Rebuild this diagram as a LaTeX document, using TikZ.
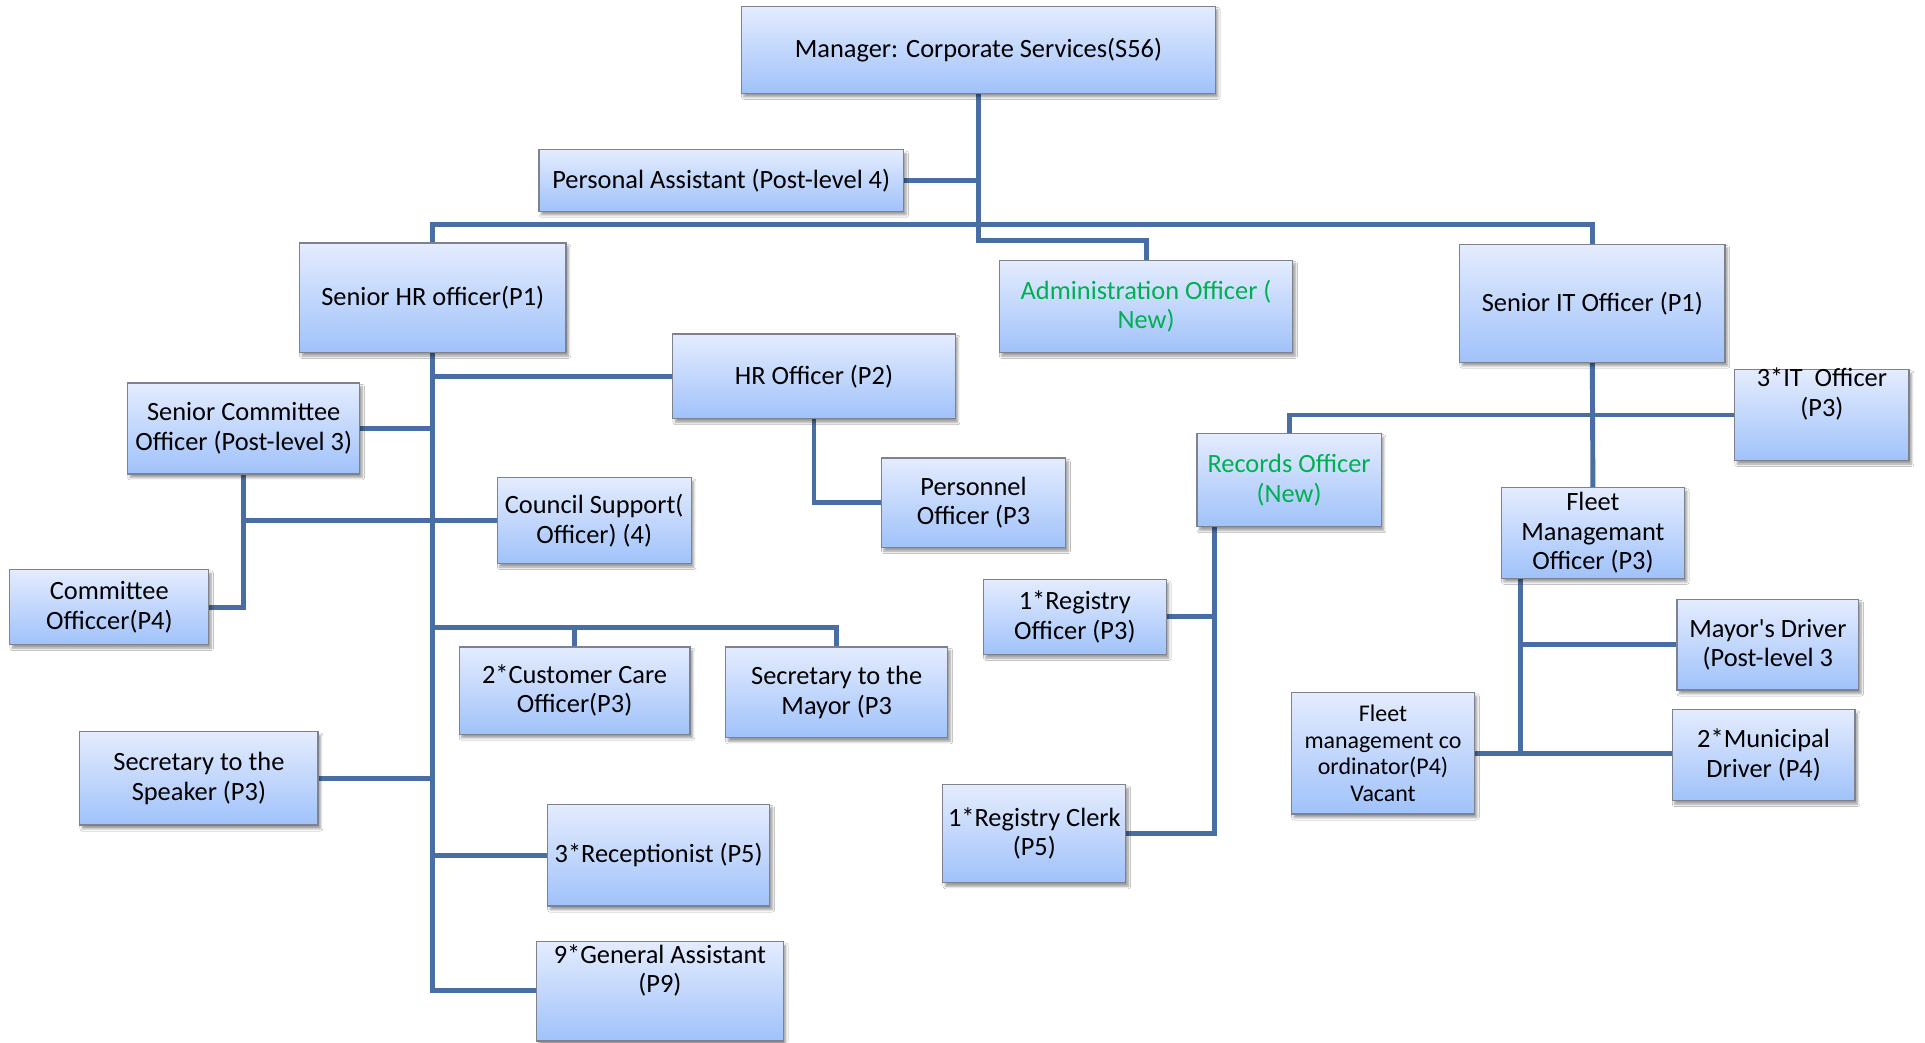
\documentclass[tikz,border=0pt]{standalone}
\usepackage{fontspec}
\setmainfont{Carlito}
\usetikzlibrary{shadows.blur,backgrounds}
\definecolor{boxtop}{RGB}{228,236,254}
\definecolor{boxbot}{RGB}{160,194,250}
\definecolor{boxline}{RGB}{125,130,140}
\definecolor{conn}{RGB}{72,110,163}
\definecolor{newgreen}{RGB}{0,176,80}
\tikzset{
  box/.style={rectangle, draw=boxline, line width=1pt, top color=boxtop, bottom color=boxbot,
    inner sep=0pt, align=center, font=\fontsize{21.5}{24}\selectfont,
    blur shadow={shadow xshift=2pt, shadow yshift=-3pt, shadow blur steps=6, shadow opacity=40}},
  small/.style={font=\fontsize{19.5}{21.5}\selectfont},
  newpost/.style={text=newgreen},
  txt/.style={inner sep=0pt, align=center, font=\fontsize{21.5}{24}\selectfont},
  conn/.style={draw=conn, line width=4pt, line cap=rect}
}
\newcommand\bx[7][]{\node[box,#1,minimum width=#5pt-#3pt, minimum height=#6pt-#4pt] (#2) at ({(#3+#5)/2},{(#4+#6)/2}) {#7};}
\begin{document}
\begin{tikzpicture}[x=1pt,y=-1pt]
\useasboundingbox (0,0) rectangle (1568,849);
% boxes
\bx{mgr}{604}{5}{990}{76}{Manager: Corporate Services(S56)}
\bx{pa}{439}{122}{736}{172}{Personal Assistant (Post-level 4)}
\bx{shr}{244}{198}{461}{287}{Senior HR officer(P1)}
\bx[newpost]{adm}{814}{212}{1053}{287}{Administration Officer (\\New)}
\bx{sit}{1189}{199}{1405}{295}{Senior IT Officer (P1)}
\bx{hro}{548}{272}{778}{341}{HR Officer (P2)}
\bx{sco}{104}{312}{293}{386}{Senior Committee\\Officer (Post-level 3)}
\bx{cs}{405}{389}{563}{459}{Council Support(\\Officer) (4)}
\bx{pers}{718}{373}{868}{446}{Personnel\\Officer (P3}
\bx{co}{8}{464}{170}{525}{Committee\\Officcer(P4)}
\bx{cc}{374}{527}{562}{598}{2*Customer Care\\Officer(P3)}
\bx{smy}{591}{527}{772}{601}{Secretary to the\\Mayor (P3}
\bx{ssp}{65}{596}{259}{672}{Secretary to the\\Speaker (P3)}
\bx{rcp}{446}{655}{627}{738}{3*Receptionist (P5)}
\bx[label={[txt,yshift=17pt]center:9*General Assistant\\(P9)}]{ga}{437}{767}{638}{848}{}
\bx[newpost]{ro}{975}{353}{1125}{429}{Records Officer\\(New)}
\bx[label={[txt,yshift=17pt]center:3*IT\ \ Officer\\(P3)}]{ito}{1413}{301}{1555}{375}{}
\bx{fl}{1223}{397}{1372}{471}{Fleet\\Managemant\\Officer (P3)}
\bx{rgo}{801}{472}{950}{533}{1*Registry\\Officer (P3)}
\bx{md}{1366}{488}{1514}{562}{Mayor\textquotesingle s Driver\\(Post-level 3}
\bx[small]{fc}{1052}{564}{1201}{663}{Fleet\\management co\\ordinator(P4)\\Vacant}
\bx{mun}{1362}{578}{1511}{652}{2*Municipal\\Driver (P4)}
\bx{rcl}{768}{639}{917}{719}{1*Registry Clerk\\(P5)}
% connectors
\begin{pgfonlayer}{background}
\fill[white] (0,0) rectangle (1568,849);
\draw[conn] (mgr.south) -- (mgr.south |- 0,196) -| (adm.north);
\draw[conn] (pa.east) -- (pa.east -| mgr.south);
\draw[conn] (shr.north) -- (shr.north |- 0,183) -- (sit.north |- 0,183) -- (sit.north);
% HR trunk
\draw[conn] (shr.south) -- (shr.south |- 0,807) -- (ga.west |- 0,807);
\draw[conn] (hro.west) -- (hro.west -| shr.south);
\draw[conn] (sco.east) -- (sco.east -| shr.south);
\draw[conn] (sco.south) |- (co.east);
\draw[conn] (cs.west) -- (cs.west -| sco.south);
\draw[conn] (shr.south |- 0,511) -| (smy.north);
\draw[conn] (cc.north) -- (cc.north |- 0,511);
\draw[conn] (ssp.east) -- (ssp.east -| shr.south);
\draw[conn] (rcp.west) -- (rcp.west -| shr.south);
\draw[conn] (hro.south) |- (pers.west);
% IT side
\draw[conn] (sit.south) -- (fl.north);
\draw[conn] (ro.north) |- (ito.west);
\coordinate (rt) at ([xshift=15pt]ro.south west);
\draw[conn] (rt) |- (rcl.east);
\draw[conn] (rgo.east) -- (rgo.east -| rt);
\coordinate (ft) at ([xshift=16pt]fl.south west);
\draw[conn] (ft) -- (ft |- fc.east);
\draw[conn] (md.west) -- (md.west -| ft);
\draw[conn] (fc.east) -- (fc.east -| mun.west);
\end{pgfonlayer}
\end{tikzpicture}
\end{document}
